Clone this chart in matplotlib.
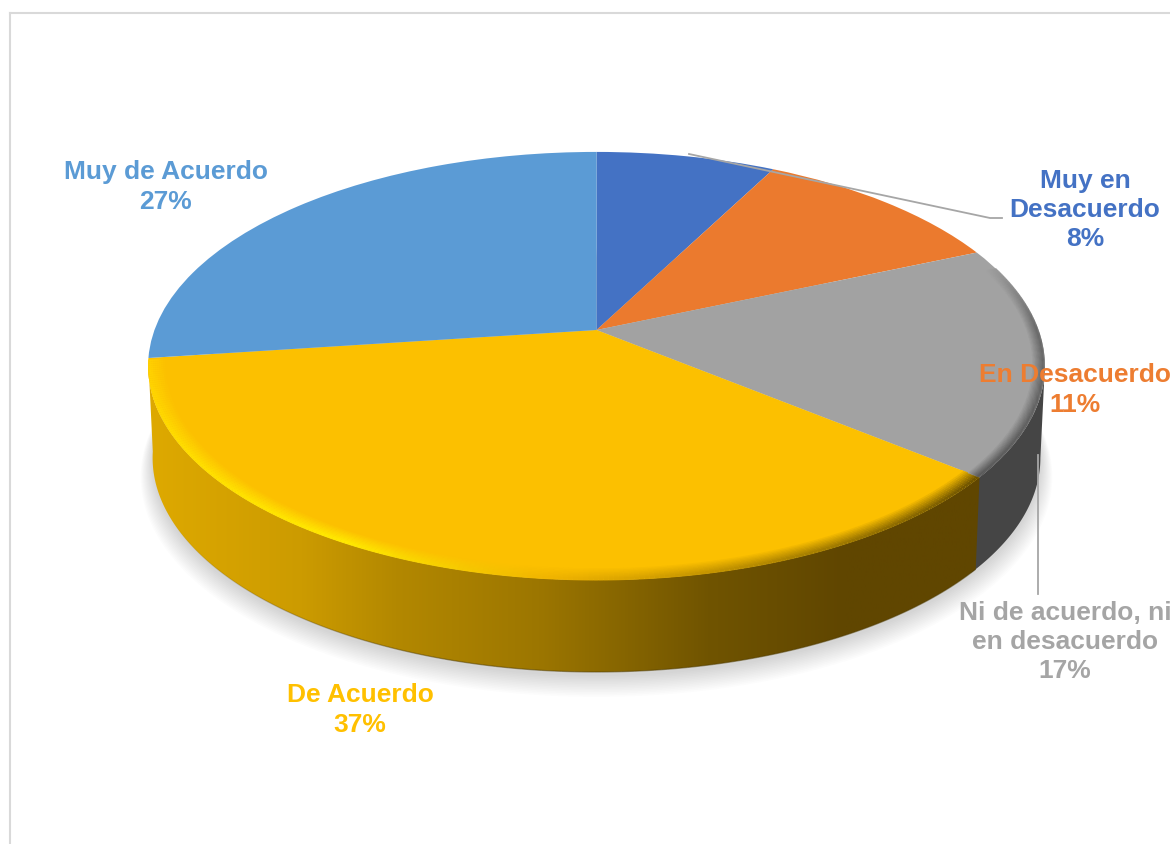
import numpy as np
import matplotlib
matplotlib.use('Agg')
import matplotlib.pyplot as plt
from matplotlib.collections import LineCollection
from matplotlib.colors import LinearSegmentedColormap, to_rgb
from matplotlib.patches import Polygon
from matplotlib.transforms import Transform

categories = ['Muy en\nDesacuerdo', 'En Desacuerdo', 'Ni de acuerdo, ni\nen desacuerdo', 'De Acuerdo', 'Muy de Acuerdo']
values = [7.6, 10.9, 17.4, 37.0, 27.1]
colors = ['#4472C4', '#EB7A2E', '#A2A2A2', '#FCC000', '#5B9BD5']
text_colors = ['#4472C4', '#ED7D31', '#A5A5A5', '#FFC000', '#5B9BD5']
label_pos = [(1085, 210), (1075, 390), (1065, 642), (360, 710), (166, 187)]

W, H = 1170, 844
CX, CY = 596.5, 330
A, B, K = 442, 208, 0.168   # perspective of the disc
DEPTH = 92
SHRINK = 0.99

plt.rcParams['font.family'] = ['Liberation Sans', 'DejaVu Sans']


class Tilt(Transform):
    # unit circle -> pixel position of the tilted disc
    input_dims = 2
    output_dims = 2
    is_separable = False
    has_inverse = False

    def transform_non_affine(self, xy):
        xy = np.asarray(xy, dtype=float)
        d = 1 + K * xy[:, 1]
        return np.column_stack([CX + A * xy[:, 0] / d, CY - B * xy[:, 1] / d])


tilt = Tilt()


def rim_xy(deg, r=1.0, drop=0.0, shrink=1.0):
    # deg is clockwise from twelve o'clock, same as the pie below
    t = np.radians(deg)
    xy = tilt.transform_non_affine(np.column_stack([r * np.sin(t), r * np.cos(t)]))
    xy[:, 0] = CX + (xy[:, 0] - CX) * shrink
    xy[:, 1] += drop
    return xy


edges = np.cumsum([0] + values) * 3.6

fig = plt.figure(figsize=(W / 100, H / 100), dpi=100)
ax = fig.add_axes([0, 0, 1, 1])

# soft shadow under the disc
full = np.linspace(0, 360, 361)
for i in range(14):
    pts = rim_xy(full, r=1.0 + i * 0.002, drop=DEPTH + 4 + i * 1.0, shrink=SHRINK)
    ax.add_patch(Polygon(pts, closed=True, fc='#808080', ec='none', alpha=0.024, zorder=1))


def wall(start, end, cmap=None, color=None):
    deg = np.linspace(start, end, 200)
    pts = np.vstack([rim_xy(deg), rim_xy(deg[::-1], drop=DEPTH, shrink=SHRINK)])
    poly = Polygon(pts, closed=True, fc=color if color else 'none', ec='none', zorder=2)
    ax.add_patch(poly)
    if cmap is not None:
        grad = np.linspace(0, 1, 512).reshape(1, -1)
        im = ax.imshow(grad, cmap=cmap, extent=(140, 990, 700, 300), aspect='auto', zorder=2.2)
        im.set_clip_path(poly)
        # thin dark lip along the bottom, fades out to the left
        pts = rim_xy(np.linspace(start, 245, 160), drop=DEPTH, shrink=SHRINK)
        segs = np.stack([pts[:-1], pts[1:]], axis=1)
        rgba = np.zeros((len(segs), 4))
        rgba[:, :3] = to_rgb('#4d3a00')
        rgba[:, 3] = np.minimum(0.5, np.linspace(1.2, 0, len(segs)))
        ax.add_collection(LineCollection(segs, colors=rgba, lw=0.9, zorder=2.5))


yellow_wall = LinearSegmentedColormap.from_list('yw', [
    (0.0, '#DFAA00'), (0.19, '#CC9B00'), (0.30, '#B38800'), (0.47, '#9C7600'),
    (0.67, '#705400'), (0.83, '#604600'), (1.0, '#604600')])
wall(99.7, edges[3] + 1, color='#454545')
wall(edges[3], 262.0, cmap=yellow_wall)

# top face
wedges, _ = ax.pie(values, colors=colors, startangle=90, counterclock=False,
                   wedgeprops={'transform': tilt + ax.transData, 'linewidth': 0})
for w in wedges:
    w.set_zorder(3)


def bevel(start, end, face, rim_stops, width=0.028, bands=9):
    deg = np.linspace(start, end, 240)
    cm = LinearSegmentedColormap.from_list('rim', rim_stops)
    rim = cm(np.linspace(0, 1, len(deg) - 1))[:, :3]
    face = np.array(to_rgb(face))
    for i in range(bands):
        f = i / (bands - 1)
        pts = rim_xy(deg, r=0.997 - width * (1 - f))
        segs = np.stack([pts[:-1], pts[1:]], axis=1)
        ax.add_collection(LineCollection(segs, colors=face + (rim - face) * f, lw=2.0,
                                         capstyle='butt', zorder=4))


bevel(edges[3], 262.0, colors[3], [(0, '#6E5300'), (0.2, '#A88000'), (0.42, '#F0B400'),
                                   (0.6, '#FFE800'), (0.85, '#FFDC00'), (1, '#FFD000')], width=0.036)
bevel(72, edges[3], colors[2], [(0, '#9a9a9a'), (0.3, '#6a6a6a'), (1, '#5a5a5a')], width=0.024)

# leader lines
ax.plot([689, 990, 1002], [154, 218, 218], color='#A6A6A6', lw=1.3, zorder=5)
ax.plot([1038, 1038], [455, 594], color='#A6A6A6', lw=1.3, zorder=5)

# chart frame
ax.plot([10, 10], [13, H], color='#D9D9D9', lw=1.5, zorder=0)
ax.plot([10, W], [13, 13], color='#D9D9D9', lw=1.5, zorder=0)

for cat, val, col, (tx, ty) in zip(categories, values, text_colors, label_pos):
    ax.text(tx, ty, f'{cat}\n{val:.0f}%', color=col, fontsize=19, fontweight='bold',
            ha='center', va='center', ma='center', linespacing=1.27, zorder=6)

ax.set_aspect('auto')
ax.set_xlim(0, W)
ax.set_ylim(H, 0)
ax.axis('off')

fig.savefig('out.png', dpi=100, facecolor='white')
